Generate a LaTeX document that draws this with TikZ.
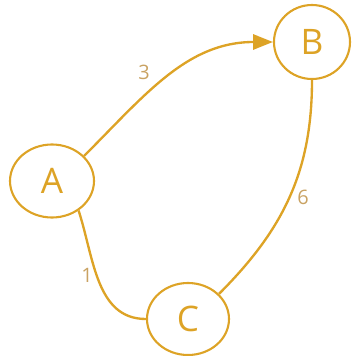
\documentclass[tikz,border=0pt]{standalone}
\usepackage{fontspec}
\setsansfont{Open Sans}
\usetikzlibrary{arrows.meta, positioning, shapes.geometric}
\definecolor{cgold}{HTML}{DDA326}
\definecolor{ctan}{HTML}{C9A262}
\tikzset{
  every picture/.style={font=\sffamily, line width=2pt},
  vertex/.style={ellipse, draw=cgold, text=cgold, line width=1.8pt, inner sep=0pt, font=\sffamily\fontsize{30}{34}\selectfont},
  edge/.style={draw=cgold, line width=2pt},
  arrow/.style={edge, -{Triangle[length=17pt, width=13pt]}},
  weight/.style={text=ctan, font=\sffamily\fontsize{17}{20}\selectfont, inner sep=2pt},
}

\begin{document}
\begin{tikzpicture}[x=0.03cm, y=0.03cm]
  \useasboundingbox (0,0) rectangle (351,356);
  \node[vertex, minimum width=84*0.03cm, minimum height=73*0.03cm] (a) at (52,175) {A};
  \node[vertex, minimum width=76*0.03cm, minimum height=74*0.03cm] (b) at (312,314) {B};
  \node[vertex, minimum width=82*0.03cm, minimum height=72*0.03cm] (c) at (188,37) {C};
  \draw[arrow] (a.38) to[out=45, in=180] (b);
  \draw[edge] (b) to[out=-90, in=45] (c.39);
  \draw[edge] (a.-48) to[out=-72, in=180] (c);
  \node[weight] (w3) at (144,284) {3};
  \node[weight] (w6) at (303,159) {6};
  \node[weight] (w1) at (87,81) {1};
\end{tikzpicture}
\end{document}
